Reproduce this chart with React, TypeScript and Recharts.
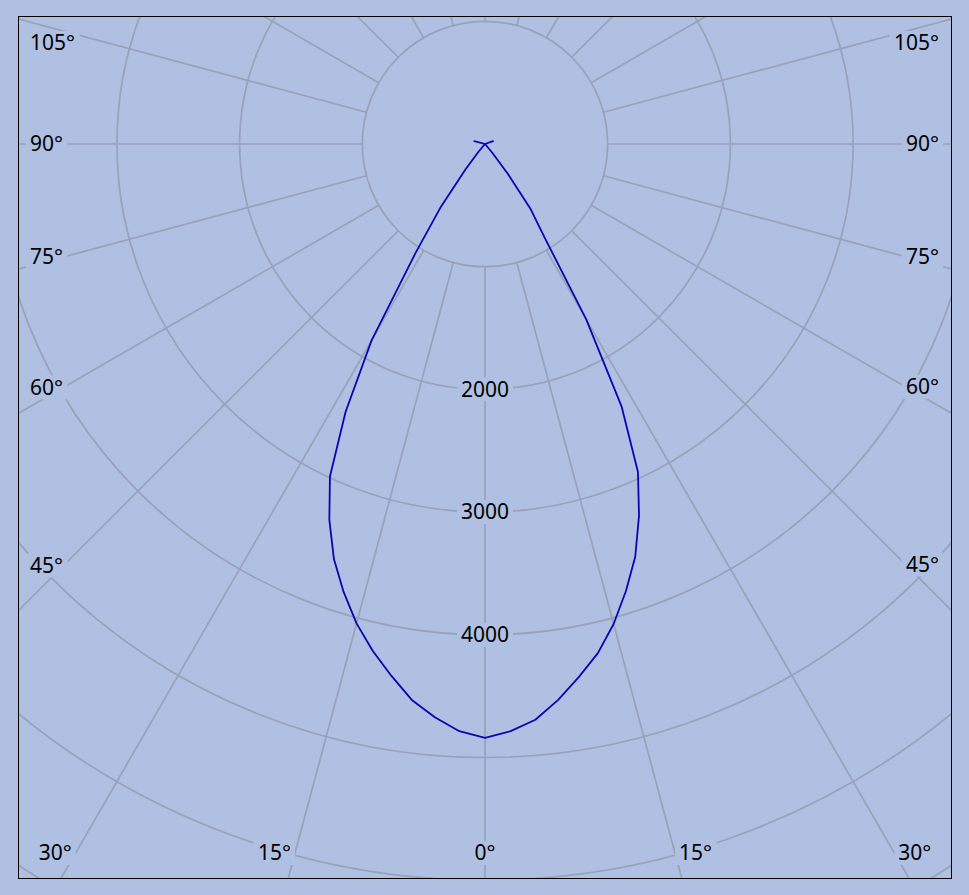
import React from "react";
import { RadarChart, Radar, PolarGrid, PolarAngleAxis, PolarRadiusAxis } from "recharts";

// luminous intensity (cd), read every 2.5° from 0° (straight down) to 180° (straight up)
const rightSide = [
  4840, 4790, 4710, 4570, 4410, 4250, 4050, 3820, 3580, 3280,
  2950, 2410, 1650, 905, 650, 305, 90, 0, 0, 0,
  0, 0, 0, 0, 0, 0, 0, 0, 0, 0,
  0, 0, 0, 0, 0, 0, 0, 0, 0, 0,
  0, 0, 0, 0, 70, 0, 0, 0, 0, 0,
  0, 0, 0, 0, 0, 0, 0, 0, 0, 0,
  0, 0, 0, 0, 0, 0, 0, 0, 0, 0,
  0, 0, 0,
];
const leftSide = [
  4840, 4790, 4690, 4570, 4400, 4230, 4045, 3830, 3600, 3315,
  2990, 2460, 1850, 1055, 635, 260, 80, 0, 0, 0,
  0, 0, 0, 0, 0, 0, 0, 0, 0, 0,
  0, 0, 0, 0, 0, 0, 0, 0, 0, 0,
  0, 0, 90, 0, 0, 0, 0, 0, 0, 0,
  0, 0, 0, 0, 0, 0, 0, 0, 0, 0,
  0, 0, 0, 0, 0, 0, 0, 0, 0, 0,
  0, 0, 0,
];
const STEP = 2.5;

// grid spokes every 15°, going round from the bottom
const gridAngles = [0, 15, 30, 45, 60, 75, 90, 105, 120, 135, 150, 165, 180, 195, 210, 225, 240, 255, 270, 285, 300, 315, 330, 345];
const radiusLabels = [2000, 3000, 4000];
const MAX_ANGLE_LABEL = 105;

const BG = "#afc0e2";
const GRID = "#98a2b9";
const CURVE = "#0a06b0";
const FONT = "'Noto Sans', sans-serif";
const FS = 21;

const W = 932;
const H = 861;
const CX = 466;
const CY = 127;
const PX_PER_CD = 0.1227;
const MAX_CD = 7000;

// chart angles run clockwise from the bottom, so 0..180 is the left half
const curveData = Array.from({ length: 360 / STEP }, (_, i) => {
  const angle = i * STEP;
  const cd = angle <= 180 ? leftSide[i] : rightSide[360 / STEP - i];
  return { angle, cd };
});
const gridData = gridAngles.map((angle) => ({ angle }));

const textWidth = (s: string) => s.replace("°", "").length * FS * 0.572 + (s.includes("°") ? FS * 0.45 : 0);

function TextBox({ x, y, text, anchor }: { x: number; y: number; text: string; anchor: "start" | "middle" | "end" }) {
  const tw = textWidth(text);
  const left = anchor === "start" ? x : anchor === "end" ? x - tw : x - tw / 2;
  return (
    <g>
      <rect x={left - 4} y={y - 12} width={tw + 8} height={24} fill={BG} />
      <text x={x} y={y} dy="0.35em" textAnchor={anchor} fontSize={FS} fontFamily={FONT} fill="#000">
        {text}
      </text>
    </g>
  );
}

const BOTTOM_Y = 836;
const SIDE_PAD = 11;
const TOP_MIN = 26;

function AngleTick(props: any) {
  const deg = Number(props.payload?.value);
  const shown = deg <= 180 ? deg : 360 - deg;
  if (!(shown <= MAX_ANGLE_LABEL)) return <g />;
  const text = `${shown}°`;
  const tw = textWidth(text);
  const len = Math.hypot(props.x - CX, props.y - CY) || 1;
  const ux = (props.x - CX) / len;
  const uy = (props.y - CY) / len;

  if (Math.abs(ux) < 1e-6) {
    return uy > 0 ? <TextBox x={CX} y={BOTTOM_Y} text={text} anchor="middle" /> : <g />;
  }
  const tSide = ux < 0 ? -CX / ux : (W - CX) / ux;
  const tBottom = uy > 1e-9 ? (H - CY) / uy : Infinity;
  const tTop = uy < -1e-9 ? -CY / uy : Infinity;
  if (tTop < tSide) return <g />;
  if (tBottom < tSide) {
    const xc = CX + (ux * (BOTTOM_Y - CY)) / uy;
    return ux < 0 ? (
      <TextBox x={xc - 4} y={BOTTOM_Y} text={text} anchor="end" />
    ) : (
      <TextBox x={xc + 4} y={BOTTOM_Y} text={text} anchor="start" />
    );
  }
  if (ux < 0) {
    const xi = SIDE_PAD + tw;
    const y = Math.max(TOP_MIN, CY + (uy * (xi - CX)) / ux);
    return <TextBox x={SIDE_PAD} y={y} text={text} anchor="start" />;
  }
  const xe = W - SIDE_PAD - 1;
  const xi = xe - tw;
  const y = Math.max(TOP_MIN, CY + (uy * (xi - CX)) / ux);
  return <TextBox x={xe} y={y} text={text} anchor="end" />;
}

function RadiusTick(props: any) {
  const v = Number(props.payload?.value);
  if (!radiusLabels.includes(v)) return <g />;
  return <TextBox x={props.x} y={props.y} text={String(v)} anchor="middle" />;
}

const margin = { top: 0, right: 0, bottom: 0, left: 0 };

export default function App() {
  return (
    <div style={{ position: "fixed", left: 0, top: 0, width: 969, height: 895, background: BG }}>
      <div
        style={{
          position: "absolute",
          left: 18,
          top: 16,
          width: W + 2,
          height: H + 2,
          boxSizing: "border-box",
          border: "1px solid #000",
          overflow: "hidden",
        }}
      >
        <div style={{ position: "absolute", left: 0, top: 0 }}>
          <RadarChart
            width={W}
            height={H}
            data={gridData}
            cx={CX}
            cy={CY}
            innerRadius={1000 * PX_PER_CD}
            outerRadius={MAX_CD * PX_PER_CD}
            startAngle={270}
            endAngle={-90}
            margin={margin}
          >
            <PolarGrid gridType="circle" stroke={GRID} strokeWidth={1.7} />
            <PolarAngleAxis dataKey="angle" axisLine={false} tickLine={false} tick={AngleTick} />
            <PolarRadiusAxis
              angle={-90}
              type="number"
              domain={[1000, MAX_CD]}
              allowDataOverflow
              tickCount={7}
              axisLine={false}
              tickLine={false}
              tick={RadiusTick}
            />
          </RadarChart>
        </div>
        <div style={{ position: "absolute", left: 0, top: 0 }}>
          <RadarChart
            width={W}
            height={H}
            data={curveData}
            cx={CX}
            cy={CY}
            innerRadius={0}
            outerRadius={MAX_CD * PX_PER_CD}
            startAngle={270}
            endAngle={-90}
            margin={margin}
          >
            <PolarAngleAxis dataKey="angle" axisLine={false} tickLine={false} tick={false} />
            <PolarRadiusAxis angle={-90} type="number" domain={[0, MAX_CD]} axisLine={false} tickLine={false} tick={false} />
            <Radar
              dataKey="cd"
              stroke={CURVE}
              strokeWidth={1.8}
              strokeLinejoin="round"
              fill="none"
              fillOpacity={0}
              dot={false}
              isAnimationActive={false}
            />
          </RadarChart>
        </div>
      </div>
    </div>
  );
}
